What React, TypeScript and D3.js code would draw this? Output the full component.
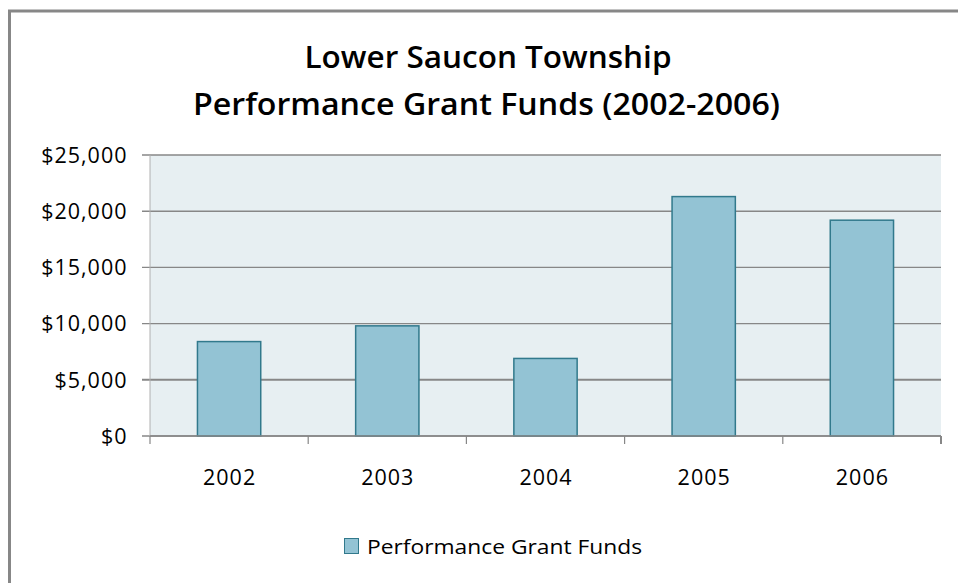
import React from "react";
import * as d3 from "d3";

const categories = ["2002", "2003", "2004", "2005", "2006"];
const values = [8400, 9800, 6900, 21300, 19200];
const yTicks = [0, 5000, 10000, 15000, 20000, 25000];
const titleLines = ["Lower Saucon Township", "Performance Grant Funds (2002-2006)"];
const seriesName = "Performance Grant Funds";

const W = 958;
const H = 583;
const plot = { left: 150, right: 941, top: 155, bottom: 436 };
const FONT = "'Open Sans', 'Noto Sans', sans-serif";

export default function App() {
  const x = d3
    .scaleBand<string>()
    .domain(categories)
    .range([plot.left, plot.right])
    .paddingInner(0)
    .paddingOuter(0);
  const y = d3.scaleLinear().domain([0, 25000]).range([plot.bottom, plot.top]);
  const barW = x.step() * 0.4;
  const fmt = (v: number) => "$" + d3.format(",")(v);
  const boundaries = [...categories.map((c) => x(c) as number), plot.right];

  return (
    <svg
      width={W}
      height={H}
      style={{ position: "absolute", left: 0, top: 0, background: "#fff" }}
      fontFamily={FONT}
    >
      <rect x={0} y={0} width={W} height={H} fill="#fff" />
      {/* outer frame */}
      <rect x={9.5} y={11} width={W + 20} height={H + 20} fill="none" stroke="#878787" strokeWidth={3} />

      {/* title */}
      <text x={488} y={68} textAnchor="middle" fontSize={30} fontWeight={600} fill="#000" textLength={367} lengthAdjust="spacingAndGlyphs">
        {titleLines[0]}
      </text>
      <text x={486.5} y={115} textAnchor="middle" fontSize={30} fontWeight={600} fill="#000" textLength={587} lengthAdjust="spacingAndGlyphs">
        {titleLines[1]}
      </text>

      {/* plot background */}
      <rect x={plot.left} y={plot.top} width={plot.right - plot.left} height={plot.bottom - plot.top} fill="#e7eff2" />

      {/* gridlines + y ticks */}
      {yTicks.map((t) => (
        <g key={t}>
          <line x1={142} x2={plot.right} y1={y(t)} y2={y(t)} stroke="#878787" strokeWidth={t === 5000 ? 2 : 1.4} />
          <text x={127.5} y={y(t)} dy="0.36em" textAnchor="end" fontSize={21.5} letterSpacing={1} fill="#000">
            {fmt(t)}
          </text>
        </g>
      ))}
      <line x1={plot.left} x2={plot.left} y1={plot.top} y2={plot.bottom} stroke="#b0b0b0" strokeWidth={1} />

      {/* bars */}
      {categories.map((c, i) => {
        const cx = (x(c) as number) + x.bandwidth() / 2;
        return (
          <rect
            key={c}
            x={cx - barW / 2}
            y={y(values[i])}
            width={barW}
            height={plot.bottom - y(values[i])}
            fill="#93c3d4"
            stroke="#31798c"
            strokeWidth={1.5}
          />
        );
      })}

      {/* x axis */}
      <line x1={plot.left} x2={plot.right} y1={plot.bottom} y2={plot.bottom} stroke="#878787" strokeWidth={1.5} />
      {boundaries.map((bx, i) => (
        <line key={i} x1={bx} x2={bx} y1={plot.bottom} y2={plot.bottom + 8} stroke="#878787" strokeWidth={i === boundaries.length - 1 ? 2 : 1.2} />
      ))}
      {categories.map((c) => (
        <text key={c} x={(x(c) as number) + x.bandwidth() / 2 + 0.5} y={485} textAnchor="middle" fontSize={21.5} letterSpacing={1} fill="#000">
          {c}
        </text>
      ))}

      {/* legend */}
      <rect x={344.5} y={538.5} width={14} height={15} fill="#93c3d4" stroke="#31798c" strokeWidth={1} />
      <text x={367} y={554} fontSize={20} fill="#000" textLength={275} lengthAdjust="spacingAndGlyphs">
        {seriesName}
      </text>
    </svg>
  );
}
